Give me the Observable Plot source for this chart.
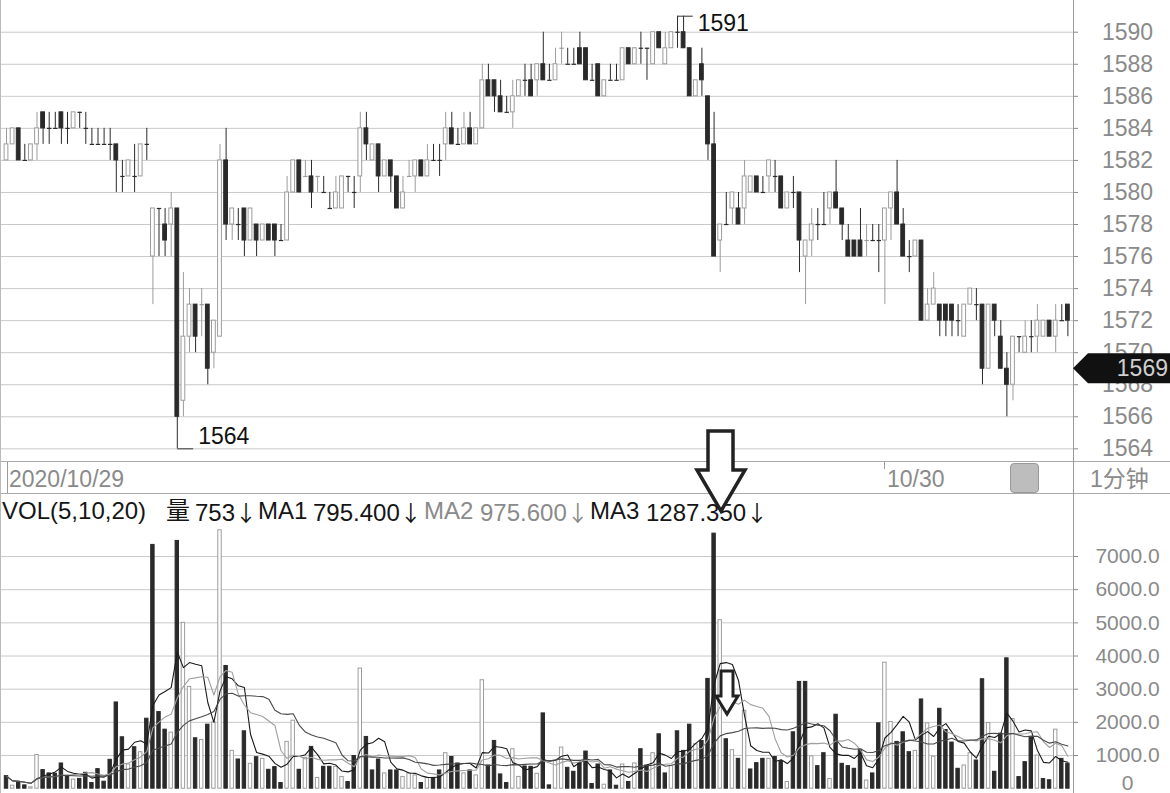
<!DOCTYPE html>
<html><head><meta charset="utf-8">
<script src="https://cdn.jsdelivr.net/npm/d3@7"></script>
<script src="https://cdn.jsdelivr.net/npm/@observablehq/plot@0.6"></script>
<style>
body{margin:0;background:#fff;}
#wrap{position:relative;width:1170px;height:793px;overflow:hidden;background:#fff;font-family:"Liberation Sans",Arial,"Noto Sans CJK SC",sans-serif;}
#price{position:absolute;left:0;top:0;}
#vol{position:absolute;left:0;top:493px;}
#daterow{position:absolute;left:0;top:461px;width:1170px;height:31px;border-top:1px solid #aaa;border-bottom:1px solid #aaa;}
.t{position:absolute;white-space:nowrap;line-height:24px;}
.g{color:#8a8a8a;}
.k{color:#151515;}
.arr{font-family:"Noto Sans CJK SC",sans-serif;font-size:22px;}
.line{position:absolute;background:#9a9a9a;}
#overlay{position:absolute;left:0;top:0;}
</style></head><body>
<div id="wrap">
  <div id="price"></div>
  <div id="vol"></div>
  <div id="daterow"></div>
  <div class="line" style="left:7px;top:462px;width:1px;height:31px;"></div>
  <div class="line" style="left:884px;top:462px;width:1px;height:7px;"></div>
  <div class="line" style="left:1073px;top:0;width:1px;height:793px;"></div>
  <div class="line" style="left:0;top:0;width:1px;height:793px;background:#bbb"></div>
  <div class="t g" id="d1" style="left:9px;top:467px;font-size:23px;"></div>
  <div class="t g" id="d2" style="left:887px;top:467px;font-size:23px;"></div>
  <div style="position:absolute;left:1010px;top:463px;width:27px;height:28px;background:#bdbdbd;border:1px solid #999;border-radius:4px;"></div>
  <div class="t g" id="period" style="left:1090px;top:467px;font-size:23px;"></div>
  <div id="header"></div>
  <svg id="overlay" width="1170" height="793"></svg>
</div>
<script>
// ---- data (1-minute bars) ----
const open = [1582,1583,1584,1582,1582,1583,1585,1584,1584,1585,
1584,1584,1585,1584,1583,1583,1583,1583,1583,1581,
1581,1581,1581,1583,1576,1579,1578,1578,1579,1567,
1571,1573,1573,1573,1570,1571,1582,1578,1578,1579,
1577,1578,1577,1578,1578,1577,1577,1580,1582,1581,
1581,1581,1580,1579,1579,1579,1581,1580,1581,1584,
1582,1583,1581,1582,1581,1579,1581,1581,1582,1581,
1582,1582,1583,1584,1583,1583,1584,1583,1584,1587,
1587,1586,1585,1585,1586,1587,1587,1587,1588,1587,
1587,1589,1588,1588,1589,1589,1587,1588,1586,1587,
1587,1587,1589,1588,1589,1589,1588,1590,1588,1589,
1590,1590,1589,1586,1588,1586,1583,1577,1578,1579,
1579,1579,1580,1581,1580,1581,1581,1581,1579,1580,
1580,1576,1577,1578,1578,1579,1580,1579,1577,1577,
1577,1577,1577,1577,1577,1579,1580,1578,1576,1576,
1577,1572,1573,1573,1573,1573,1572,1571,1573,1573,
1573,1569,1573,1571,1569,1568,1571,1570,1571,1571,
1571,1572,1571,1572,1573];
const high = [1584,1584,1584,1583,1583,1585,1585,1585,1585,1585,
1585,1585,1585,1585,1584,1584,1584,1584,1583,1582,
1582,1583,1583,1584,1579,1579,1579,1580,1579,1575,
1574,1573,1574,1573,1572,1583,1584,1579,1579,1579,
1579,1578,1578,1578,1578,1578,1581,1582,1582,1582,
1582,1581,1581,1580,1581,1581,1581,1581,1585,1585,
1583,1583,1582,1582,1581,1581,1582,1582,1582,1583,
1583,1583,1585,1585,1584,1585,1585,1584,1588,1588,
1587,1587,1586,1587,1587,1588,1588,1588,1590,1588,
1589,1590,1589,1589,1590,1589,1588,1588,1587,1588,
1588,1589,1589,1589,1590,1589,1590,1590,1590,1590,
1591,1591,1589,1587,1589,1586,1585,1578,1580,1580,
1580,1582,1581,1581,1581,1582,1582,1581,1580,1581,
1580,1577,1579,1579,1580,1580,1582,1579,1578,1577,
1579,1578,1578,1578,1579,1580,1582,1579,1577,1577,
1577,1574,1575,1573,1573,1573,1573,1573,1574,1574,
1573,1573,1573,1572,1570,1571,1571,1572,1572,1573,
1572,1572,1573,1573,1573];
const low = [1582,1583,1582,1582,1582,1582,1583,1583,1584,1583,
1583,1584,1584,1583,1583,1583,1583,1582,1580,1580,
1581,1580,1581,1582,1573,1576,1576,1576,1564,1566,
1570,1570,1571,1568,1569,1571,1577,1577,1577,1576,
1577,1576,1577,1577,1576,1577,1577,1580,1580,1581,
1579,1580,1580,1579,1579,1579,1580,1579,1580,1582,
1582,1580,1581,1580,1579,1579,1581,1580,1581,1581,
1582,1581,1582,1583,1583,1583,1583,1583,1584,1586,
1585,1585,1585,1584,1586,1586,1586,1586,1587,1587,
1587,1588,1588,1588,1588,1587,1587,1586,1586,1587,
1587,1587,1588,1588,1588,1587,1588,1589,1588,1589,
1589,1589,1586,1586,1586,1582,1576,1575,1578,1578,
1578,1578,1580,1580,1580,1580,1580,1579,1579,1579,
1575,1573,1576,1577,1578,1578,1579,1577,1576,1576,
1576,1576,1577,1575,1573,1577,1578,1576,1575,1576,
1572,1572,1573,1571,1571,1571,1571,1571,1573,1572,
1568,1569,1571,1569,1566,1567,1570,1570,1570,1570,
1571,1571,1570,1572,1571];
const close = [1583,1584,1582,1582,1583,1584,1584,1584,1584,1584,
1584,1585,1585,1584,1583,1583,1583,1583,1582,1581,
1582,1581,1583,1583,1579,1579,1577,1579,1566,1571,
1573,1571,1573,1569,1572,1582,1578,1579,1578,1577,
1579,1577,1578,1577,1577,1577,1580,1582,1580,1581,
1580,1581,1580,1579,1580,1581,1581,1580,1584,1583,
1583,1581,1582,1581,1579,1580,1581,1582,1581,1582,
1582,1582,1584,1583,1583,1584,1583,1584,1587,1586,
1586,1585,1585,1586,1587,1587,1586,1588,1587,1587,
1588,1589,1588,1588,1588,1587,1587,1586,1587,1587,
1587,1589,1588,1589,1589,1589,1590,1589,1589,1590,
1590,1589,1586,1587,1587,1583,1576,1578,1578,1580,
1578,1581,1581,1580,1580,1582,1581,1579,1580,1580,
1577,1577,1578,1578,1578,1580,1579,1578,1576,1576,
1576,1577,1577,1577,1579,1580,1578,1576,1576,1577,
1572,1573,1574,1572,1572,1572,1572,1573,1574,1573,
1569,1573,1572,1569,1568,1571,1571,1571,1571,1572,
1572,1571,1572,1572,1572];
const volume = [380,90,200,100,40,1015,560,460,450,760,
375,275,295,480,170,590,210,870,2600,1550,
730,1250,1100,2110,7350,2310,1780,1690,7470,5000,
3070,1520,1470,1930,2000,7790,3700,1140,880,1730,
750,950,900,570,650,170,1410,2050,570,930,
1260,325,660,660,660,355,200,985,3620,1560,
550,880,460,550,550,355,460,400,170,325,
325,550,1070,955,760,460,550,400,3270,700,
1440,430,170,1190,355,670,660,450,2270,100,
830,1240,630,510,770,1120,140,730,120,550,
90,730,200,760,1190,700,1070,1640,460,680,
1730,1140,1930,1340,1440,3310,7690,5080,1490,1160,
900,2350,580,770,900,900,955,830,200,1700,
3220,3220,975,680,1070,295,2230,750,680,600,
1170,245,460,1970,3800,2010,1410,1700,1100,1140,
2690,1970,965,2410,1770,1391,600,700,1070,850,
3300,1980,510,1660,3930,2100,350,800,1530,999,
290,255,1780,899,753];
const priceTicks = [1564,1566,1568,1570,1572,1574,1576,1578,1580,1582,1584,1586,1588,1590];
const volTicks = [1000,2000,3000,4000,5000,6000,7000];
const maPeriods = [5, 10, 20];
const lastPrice = 1569;
const dateLabels = ["2020/10/29", "10/30"];
const periodLabel = "1分钟";

// ---- styles ----
const FONT = '"Liberation Sans", Arial, "Noto Sans CJK SC", sans-serif';
const UP = "#9c9c9c", DOWN = "#2a2a2a";
const BW = 0.31, VW = 0.28;
const xDomain = [0.016, 175.92];

const rows = open.map((o, k) => ({
  i: k + 1, o, h: high[k], l: low[k], c: close[k], v: volume[k],
  rise: k > 0 && close[k] > close[k - 1]
}));
const up = rows.filter(d => d.c > d.o);
const down = rows.filter(d => d.c < d.o);
const dojiUp = rows.filter(d => d.c === d.o && d.rise);
const dojiDown = rows.filter(d => d.c === d.o && !d.rise);
const volUp = rows.filter(d => d.rise);
const volDown = rows.filter(d => !d.rise);
const hiBar = d3.greatest(rows, d => d.h);
const loBar = d3.least(rows, d => d.l);

const price = Plot.plot({
  width: 1170, height: 461, marginTop: 0, marginBottom: 0, marginLeft: 0, marginRight: 97,
  style: {display: "block", background: "transparent", fontFamily: FONT, overflow: "visible"},
  x: {domain: xDomain, axis: null},
  y: {domain: [1563.21, 1591.98], label: null},
  marks: [
    Plot.ruleY(priceTicks, {stroke: "#c9c9c9", strokeWidth: 1}),
    Plot.axisY(priceTicks, {anchor: "right", tickSize: 4, tickPadding: 50, textAnchor: "middle",
      fontSize: 23, color: "#8a8a8a", tickFormat: d => String(d), label: null}),
    Plot.ruleX(up, {x: "i", y1: "l", y2: "h", stroke: UP}),
    Plot.ruleX(down, {x: "i", y1: "l", y2: "h", stroke: DOWN}),
    Plot.ruleX(dojiUp, {x: "i", y1: "l", y2: "h", stroke: UP}),
    Plot.ruleX(dojiDown, {x: "i", y1: "l", y2: "h", stroke: DOWN}),
    Plot.rect(up, {x1: d => d.i - BW, x2: d => d.i + BW, y1: "o", y2: "c", fill: "white", stroke: UP}),
    Plot.rect(down, {x1: d => d.i - BW, x2: d => d.i + BW, y1: "o", y2: "c", fill: DOWN, stroke: DOWN}),
    Plot.link(dojiUp, {x1: d => d.i - BW - 0.05, x2: d => d.i + BW + 0.05, y1: "c", y2: "c", stroke: UP, strokeWidth: 1.2}),
    Plot.link(dojiDown, {x1: d => d.i - BW - 0.05, x2: d => d.i + BW + 0.05, y1: "c", y2: "c", stroke: DOWN, strokeWidth: 1.2}),
    Plot.link([hiBar], {x1: "i", x2: d => d.i + 2.5, y1: "h", y2: "h", stroke: "#333"}),
    Plot.text([hiBar], {x: d => d.i + 2.5, y: "h", text: d => String(d.h), textAnchor: "start", dx: 5, dy: 7, fontSize: 23, fill: "#111"}),
    Plot.link([loBar], {x1: "i", x2: d => d.i + 2.6, y1: "l", y2: "l", stroke: "#333"}),
    Plot.text([loBar], {x: d => d.i + 2.6, y: "l", text: d => String(d.l), textAnchor: "start", dx: 5, dy: -12, fontSize: 23, fill: "#111"})
  ]
});
document.getElementById("price").appendChild(price);

const maColors = ["#1a1a1a", "#a0a0a0", "#4a4a4a"];
const vol = Plot.plot({
  width: 1170, height: 300, marginTop: 0, marginBottom: 0, marginLeft: 0, marginRight: 97,
  style: {display: "block", background: "transparent", fontFamily: FONT},
  x: {domain: xDomain, axis: null},
  y: {domain: [-145, 8900], label: null},
  marks: [
    Plot.ruleY(volTicks, {stroke: "#c9c9c9", strokeWidth: 1}),
    Plot.axisY(volTicks, {anchor: "right", tickSize: 4, tickPadding: 50, textAnchor: "middle",
      fontSize: 21, color: "#8a8a8a", tickFormat: d => d.toFixed(1), label: null}),
    Plot.text([0], {y: d => d, text: d => String(d), frameAnchor: "right", dx: 54, dy: -5, fontSize: 21, fill: "#8a8a8a", textAnchor: "middle"}),
    Plot.rect(volUp, {x1: d => d.i - VW, x2: d => d.i + VW, y1: 0, y2: "v", fill: "white", stroke: UP}),
    Plot.rect(volDown, {x1: d => d.i - VW, x2: d => d.i + VW, y1: 0, y2: "v", fill: DOWN, stroke: DOWN}),
    ...maPeriods.map((k, j) => Plot.lineY(rows, Plot.windowY({k, anchor: "end", reduce: "mean"},
      {x: "i", y: "v", stroke: maColors[j], strokeWidth: 1.1})))
  ]
});
document.getElementById("vol").appendChild(vol);

// ---- text rows ----
document.getElementById("d1").textContent = dateLabels[0];
document.getElementById("d2").textContent = dateLabels[1];
document.getElementById("period").textContent = periodLabel;

const ma = maPeriods.map(k => d3.mean(volume.slice(-k)));
const header = [
  ["VOL(" + maPeriods.join(",") + ")", 2, "k", false],
  ["量", 166, "k", false],
  [String(volume[volume.length - 1]), 195, "k", true],
  ["MA1", 258, "k", false],
  [ma[0].toFixed(3), 313, "k", true],
  ["MA2", 424, "g", false],
  [ma[1].toFixed(3), 480, "g", true],
  ["MA3", 590, "k", false],
  [ma[2].toFixed(3), 646, "k", true]
];
const hd = document.getElementById("header");
header.forEach(([txt, x, cls, arrow]) => {
  const s = document.createElement("div");
  s.className = "t " + cls;
  s.style.left = x + "px"; s.style.top = "499px"; s.style.fontSize = "24px";
  s.textContent = txt;
  if (arrow) {
    const a = document.createElement("span");
    a.className = "arr";
    a.textContent = "↓";
    s.appendChild(a);
  }
  hd.appendChild(s);
});

// ---- overlay: last-price tag and hand-drawn arrows ----
const ov = d3.select("#overlay");
const yLast = price.scale("y").apply(lastPrice);
ov.append("path")
  .attr("d", `M1073,${yLast} L1088,${yLast - 15} L1170,${yLast - 15} L1170,${yLast + 15} L1088,${yLast + 15} Z`)
  .attr("fill", "#111");
ov.append("text").attr("x", 1168).attr("y", yLast).attr("dy", "0.35em")
  .attr("text-anchor", "end").attr("font-size", 23).attr("font-family", FONT)
  .attr("fill", "#cfcfcf").text(String(lastPrice));
ov.append("path")
  .attr("d", "M708,431 L733,431 L733,470 L745,470 L721,511 L697,470 L708,470 Z")
  .attr("fill", "white").attr("stroke", "#222").attr("stroke-width", 3.5).attr("stroke-linejoin", "miter");
ov.append("path")
  .attr("d", "M721,671 L733,671 L733,696 L738,696 L727,714 L716,696 L721,696 Z")
  .attr("fill", "white").attr("stroke", "#222").attr("stroke-width", 3).attr("stroke-linejoin", "miter");
</script>
</body></html>
